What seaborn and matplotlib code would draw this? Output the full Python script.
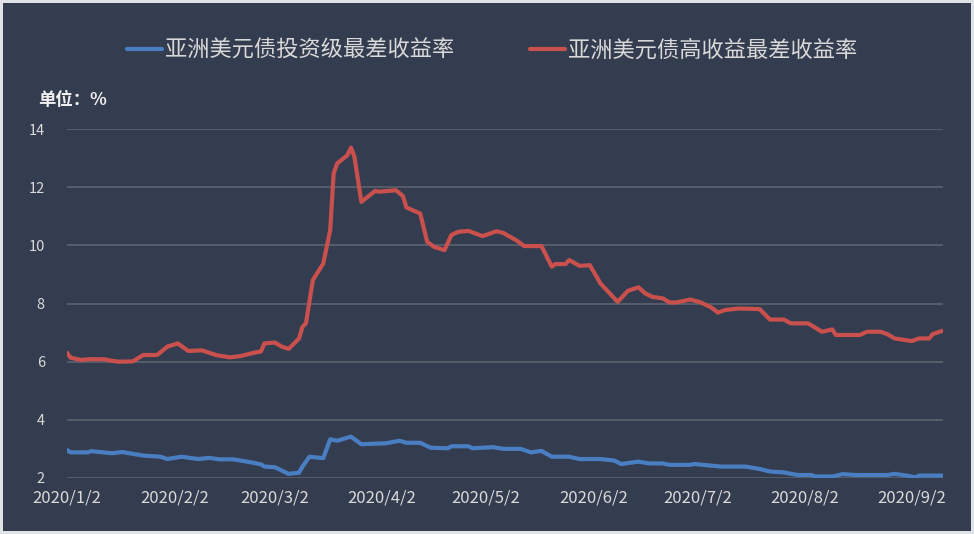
import pandas as pd
import matplotlib
matplotlib.use("Agg")
import matplotlib.pyplot as plt
import seaborn as sns

# data
ig_dates = ["2020-01-02", "2020-01-03", "2020-01-08", "2020-01-09", "2020-01-15", "2020-01-18",
            "2020-01-24", "2020-01-29", "2020-01-31", "2020-02-04", "2020-02-09", "2020-02-12",
            "2020-02-15", "2020-02-19", "2020-02-23", "2020-02-27", "2020-02-28", "2020-03-02",
            "2020-03-06", "2020-03-09", "2020-03-10", "2020-03-12", "2020-03-16", "2020-03-18",
            "2020-03-20", "2020-03-24", "2020-03-27", "2020-03-31", "2020-04-03", "2020-04-07",
            "2020-04-09", "2020-04-13", "2020-04-16", "2020-04-21", "2020-04-22", "2020-04-27",
            "2020-04-28", "2020-05-04", "2020-05-07", "2020-05-12", "2020-05-15", "2020-05-18",
            "2020-05-21", "2020-05-26", "2020-05-29", "2020-06-04", "2020-06-08", "2020-06-10",
            "2020-06-15", "2020-06-18", "2020-06-22", "2020-06-24", "2020-06-30", "2020-07-01",
            "2020-07-09", "2020-07-16", "2020-07-20", "2020-07-23", "2020-07-27", "2020-07-31",
            "2020-08-04", "2020-08-05", "2020-08-10", "2020-08-13", "2020-08-17", "2020-08-26",
            "2020-08-28", "2020-09-01", "2020-09-03", "2020-09-04", "2020-09-11"]
ig_values = [2.96, 2.88, 2.88, 2.92, 2.85, 2.89,
             2.77, 2.73, 2.65, 2.73, 2.65, 2.69,
             2.64, 2.64, 2.56, 2.47, 2.39, 2.37,
             2.14, 2.18, 2.39, 2.73, 2.68, 3.33,
             3.28, 3.42, 3.16, 3.18, 3.19, 3.28,
             3.21, 3.21, 3.04, 3.02, 3.09, 3.09,
             3.02, 3.06, 3.00, 3.00, 2.88, 2.93,
             2.73, 2.73, 2.65, 2.65, 2.60, 2.48,
             2.56, 2.50, 2.50, 2.45, 2.45, 2.48,
             2.39, 2.39, 2.31, 2.22, 2.19, 2.10,
             2.10, 2.05, 2.05, 2.13, 2.10, 2.10,
             2.14, 2.07, 2.02, 2.08, 2.08]

hy_dates = ["2020-01-02", "2020-01-03", "2020-01-06", "2020-01-09", "2020-01-13", "2020-01-15",
            "2020-01-17", "2020-01-21", "2020-01-24", "2020-01-28", "2020-01-31", "2020-02-03",
            "2020-02-06", "2020-02-10", "2020-02-14", "2020-02-18", "2020-02-21", "2020-02-25",
            "2020-02-27", "2020-02-28", "2020-03-02", "2020-03-04", "2020-03-06", "2020-03-09",
            "2020-03-10", "2020-03-11", "2020-03-13", "2020-03-16", "2020-03-18", "2020-03-19",
            "2020-03-20", "2020-03-23", "2020-03-24", "2020-03-25", "2020-03-27", "2020-03-31",
            "2020-04-01", "2020-04-06", "2020-04-08", "2020-04-09", "2020-04-13", "2020-04-15",
            "2020-04-17", "2020-04-20", "2020-04-22", "2020-04-24", "2020-04-27", "2020-05-01",
            "2020-05-05", "2020-05-07", "2020-05-11", "2020-05-13", "2020-05-18", "2020-05-21",
            "2020-05-22", "2020-05-25", "2020-05-26", "2020-05-29", "2020-06-01", "2020-06-04",
            "2020-06-09", "2020-06-12", "2020-06-15", "2020-06-17", "2020-06-19", "2020-06-22",
            "2020-06-24", "2020-06-26", "2020-06-30", "2020-07-03", "2020-07-06", "2020-07-08",
            "2020-07-10", "2020-07-14", "2020-07-20", "2020-07-23", "2020-07-27", "2020-07-29",
            "2020-08-03", "2020-08-07", "2020-08-10", "2020-08-11", "2020-08-18", "2020-08-20",
            "2020-08-24", "2020-08-26", "2020-08-28", "2020-09-02", "2020-09-04", "2020-09-07",
            "2020-09-08", "2020-09-11"]
hy_values = [6.31, 6.14, 6.06, 6.09, 6.08, 6.03,
             6.00, 6.01, 6.23, 6.23, 6.52, 6.63,
             6.37, 6.39, 6.23, 6.15, 6.19, 6.31,
             6.35, 6.63, 6.66, 6.52, 6.44, 6.80,
             7.20, 7.32, 8.81, 9.38, 10.53, 12.48,
             12.82, 13.11, 13.37, 13.05, 11.50, 11.88,
             11.85, 11.90, 11.70, 11.31, 11.10, 10.13,
             9.95, 9.84, 10.36, 10.47, 10.50, 10.32,
             10.49, 10.43, 10.16, 9.98, 9.98, 9.27,
             9.36, 9.36, 9.50, 9.30, 9.32, 8.70,
             8.06, 8.44, 8.56, 8.35, 8.23, 8.18,
             8.04, 8.04, 8.14, 8.04, 7.87, 7.69,
             7.78, 7.83, 7.81, 7.45, 7.45, 7.32,
             7.32, 7.03, 7.11, 6.92, 6.92, 7.03,
             7.03, 6.94, 6.80, 6.71, 6.80, 6.80,
             6.95, 7.07]

series_names = ["亚洲美元债投资级最差收益率", "亚洲美元债高收益最差收益率"]
x_ticks = ["2020-01-02", "2020-02-02", "2020-03-02", "2020-04-02", "2020-05-02",
           "2020-06-02", "2020-07-02", "2020-08-02", "2020-09-02"]
x_tick_labels = ["2020/1/2", "2020/2/2", "2020/3/2", "2020/4/2", "2020/5/2",
                 "2020/6/2", "2020/7/2", "2020/8/2", "2020/9/2"]
y_ticks = [2, 4, 6, 8, 10, 12, 14]

df = pd.concat([
    pd.DataFrame({"date": pd.to_datetime(ig_dates), "value": ig_values, "series": series_names[0]}),
    pd.DataFrame({"date": pd.to_datetime(hy_dates), "value": hy_values, "series": series_names[1]}),
])

bg = "#343d4f"
sns.set_style("dark")
plt.rcParams["font.family"] = ["Noto Sans CJK SC", "DejaVu Sans"]

fig = plt.figure(figsize=(9.74, 5.34), dpi=100, facecolor=bg)
fig.patch.set_edgecolor("#dfe2e6")
fig.patch.set_linewidth(4)
ax = fig.add_axes([0.0688, 0.105, 0.8995, 0.653])
ax.set_facecolor(bg)

sns.lineplot(data=df, x="date", y="value", hue="series", palette=["#4a7ec2", "#c9504d"],
             linewidth=3, ax=ax)

ax.set_ylim(2, 14)
ax.set_yticks(y_ticks)
ax.set_xlim(pd.Timestamp(ig_dates[0]), pd.Timestamp(ig_dates[-1]))
ax.set_xticks(pd.to_datetime(x_ticks))
ax.set_xticklabels(x_tick_labels)
ax.grid(axis="y", color="#5d626e", linewidth=1.2)
ax.grid(axis="x", visible=False)
ax.set_axisbelow(True)
for s in ax.spines.values():
    s.set_visible(False)
ax.tick_params(axis="y", colors="#d9d9d9", labelsize=10.5, length=0, pad=16)
ax.tick_params(axis="x", colors="#d9d9d9", labelsize=12, length=0, pad=8)
ax.set_xlabel("")
ax.set_ylabel("")

fig.text(0.039, 0.813, "单位：%", color="#f0f0f0", fontsize=12.5, fontweight="bold", va="center")

leg = ax.legend(loc="center", bbox_to_anchor=(0.505, 0.906), bbox_transform=fig.transFigure,
                ncol=2, frameon=False, fontsize=16, handlelength=1.6, handletextpad=0.12,
                columnspacing=3.4)
for t in leg.get_texts():
    t.set_color("#d9d9d9")

fig.savefig("out.png", dpi=100, facecolor=bg, edgecolor=fig.patch.get_edgecolor())
